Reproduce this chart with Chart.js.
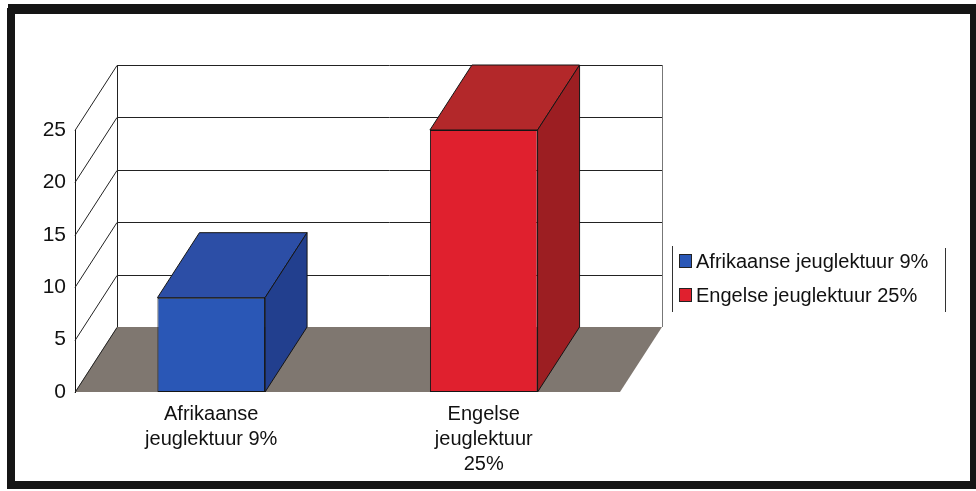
<!DOCTYPE html>
<html>
<head>
<meta charset="utf-8">
<script src="https://cdn.jsdelivr.net/npm/chart.js@4"></script>
<style>
  html, body { margin: 0; padding: 0; background: #fff; }
  #wrap { width: 976px; height: 491px; position: relative; }
</style>
</head>
<body>
<div id="wrap"><canvas id="c" width="976" height="491"></canvas></div>
<script>
// ---- data ----
const categories = [['Afrikaanse', 'jeuglektuur 9%'], ['Engelse', 'jeuglektuur', '25%']];
const legendNames = ['Afrikaanse jeuglektuur 9%', 'Engelse jeuglektuur 25%'];
const values = [9, 25];
const yTickValues = [0, 5, 10, 15, 20, 25];

// ---- styles ----
const frontColors = ['#2a57b6', '#e0202e'];
const topColors = ['#2c4ea6', '#b3282a'];
const sideColors = ['#223f8e', '#9c1e22'];
const FONT = '"Liberation Sans", Arial, sans-serif';
const DX = 42, DY = -65;

const threeD = {
  id: 'threeD',
  beforeDatasetsDraw(chart) {
    const ctx = chart.ctx;
    const { left, right, top, bottom } = chart.chartArea;
    const ys = chart.scales.y;
    ctx.save();
    // floor
    ctx.fillStyle = '#7f7770';
    ctx.beginPath();
    ctx.moveTo(left, bottom);
    ctx.lineTo(right, bottom);
    ctx.lineTo(right + DX, bottom + DY);
    ctx.lineTo(left + DX, bottom + DY);
    ctx.closePath();
    ctx.fill();
    // back wall edges
    ctx.lineWidth = 1;
    ctx.strokeStyle = '#222';
    ctx.beginPath();
    ctx.moveTo(left + DX + 0.5, top + DY);
    ctx.lineTo(left + DX + 0.5, bottom + DY);
    ctx.stroke();
    ctx.strokeStyle = '#777';
    ctx.beginPath();
    ctx.moveTo(right + DX + 0.5, top + DY);
    ctx.lineTo(right + DX + 0.5, bottom + DY);
    ctx.stroke();
    // gridlines on back wall and side diagonals
    ctx.strokeStyle = '#222';
    yTickValues.forEach(v => {
      const py = Math.round(ys.getPixelForValue(v)) + 0.5;
      if (v > 0) {
        ctx.beginPath();
        ctx.moveTo(left + DX, py + DY);
        ctx.lineTo(right + DX, py + DY);
        ctx.stroke();
      }
      ctx.beginPath();
      ctx.moveTo(left, py);
      ctx.lineTo(left + DX, py + DY);
      ctx.stroke();
    });
    ctx.restore();
  },
  afterDatasetsDraw(chart) {
    const ctx = chart.ctx;
    const meta = chart.getDatasetMeta(0);
    ctx.save();
    ctx.lineWidth = 1;
    ctx.strokeStyle = '#151515';
    ctx.lineJoin = 'round';
    meta.data.forEach((bar, i) => {
      const p = bar.getProps(['x', 'y', 'width', 'base'], true);
      const l = p.x - p.width / 2, r = p.x + p.width / 2, t = p.y, b = p.base;
      // top face
      ctx.fillStyle = topColors[i];
      ctx.beginPath();
      ctx.moveTo(l, t);
      ctx.lineTo(r, t);
      ctx.lineTo(r + DX, t + DY);
      ctx.lineTo(l + DX, t + DY);
      ctx.closePath();
      ctx.fill();
      ctx.stroke();
      // side face
      ctx.fillStyle = sideColors[i];
      ctx.beginPath();
      ctx.moveTo(r, t);
      ctx.lineTo(r, b);
      ctx.lineTo(r + DX, b + DY);
      ctx.lineTo(r + DX, t + DY);
      ctx.closePath();
      ctx.fill();
      ctx.stroke();
    });
    ctx.restore();
  },
  afterDraw(chart) {
    const ctx = chart.ctx;
    ctx.save();
    // legend box sides
    ctx.strokeStyle = '#333';
    ctx.lineWidth = 1;
    ctx.beginPath();
    ctx.moveTo(672.5, 246); ctx.lineTo(672.5, 312);
    ctx.moveTo(945.5, 248); ctx.lineTo(945.5, 312);
    ctx.stroke();
    // legend items
    ctx.font = '20px ' + FONT;
    ctx.textBaseline = 'middle';
    ctx.textAlign = 'left';
    legendNames.forEach((name, i) => {
      const cy = 261 + i * 34;
      ctx.fillStyle = frontColors[i];
      ctx.fillRect(679, cy - 7, 13, 14);
      ctx.strokeStyle = '#222';
      ctx.strokeRect(679.5, cy - 6.5, 12, 13);
      ctx.fillStyle = '#111';
      ctx.fillText(name, 696, cy + 1);
    });
    // frame
    ctx.fillStyle = '#151515';
    ctx.fillRect(8, 4, 968, 10);
    ctx.fillRect(7, 8, 8, 481);
    ctx.fillRect(970, 4, 6, 485);
    ctx.fillRect(7, 481, 969, 8);
    ctx.restore();
  }
};

const whiteBg = {
  id: 'whiteBg',
  beforeDraw(chart) {
    const ctx = chart.ctx;
    ctx.save();
    ctx.fillStyle = '#fff';
    ctx.fillRect(0, 0, chart.width, chart.height);
    ctx.restore();
  }
};

new Chart(document.getElementById('c'), {
  type: 'bar',
  data: {
    labels: categories,
    datasets: [{
      label: 'jeuglektuur',
      data: values,
      backgroundColor: frontColors,
      borderColor: '#151515',
      borderWidth: 1,
      borderSkipped: false,
      categoryPercentage: 1,
      barPercentage: 0.395
    }]
  },
  options: {
    responsive: false,
    animation: false,
    devicePixelRatio: 1,
    layout: { padding: { left: 0, top: 130, right: 356, bottom: 0 } },
    plugins: { legend: { display: false }, tooltip: { enabled: false } },
    scales: {
      x: {
        grid: { display: false, drawTicks: false },
        border: { display: false },
        ticks: { color: '#111', font: { family: FONT, size: 20, lineHeight: 1.25 }, padding: 10, maxRotation: 0 },
        afterFit(scale) { scale.height = 99; }
      },
      y: {
        min: 0, max: 25,
        grid: { display: false, drawTicks: false },
        border: { display: true, color: '#111', width: 1 },
        ticks: { stepSize: 5, color: '#111', font: { family: FONT, size: 21 }, padding: 9 },
        afterFit(scale) { scale.width = 75; }
      }
    }
  },
  plugins: [whiteBg, threeD]
});
</script>
</body>
</html>
